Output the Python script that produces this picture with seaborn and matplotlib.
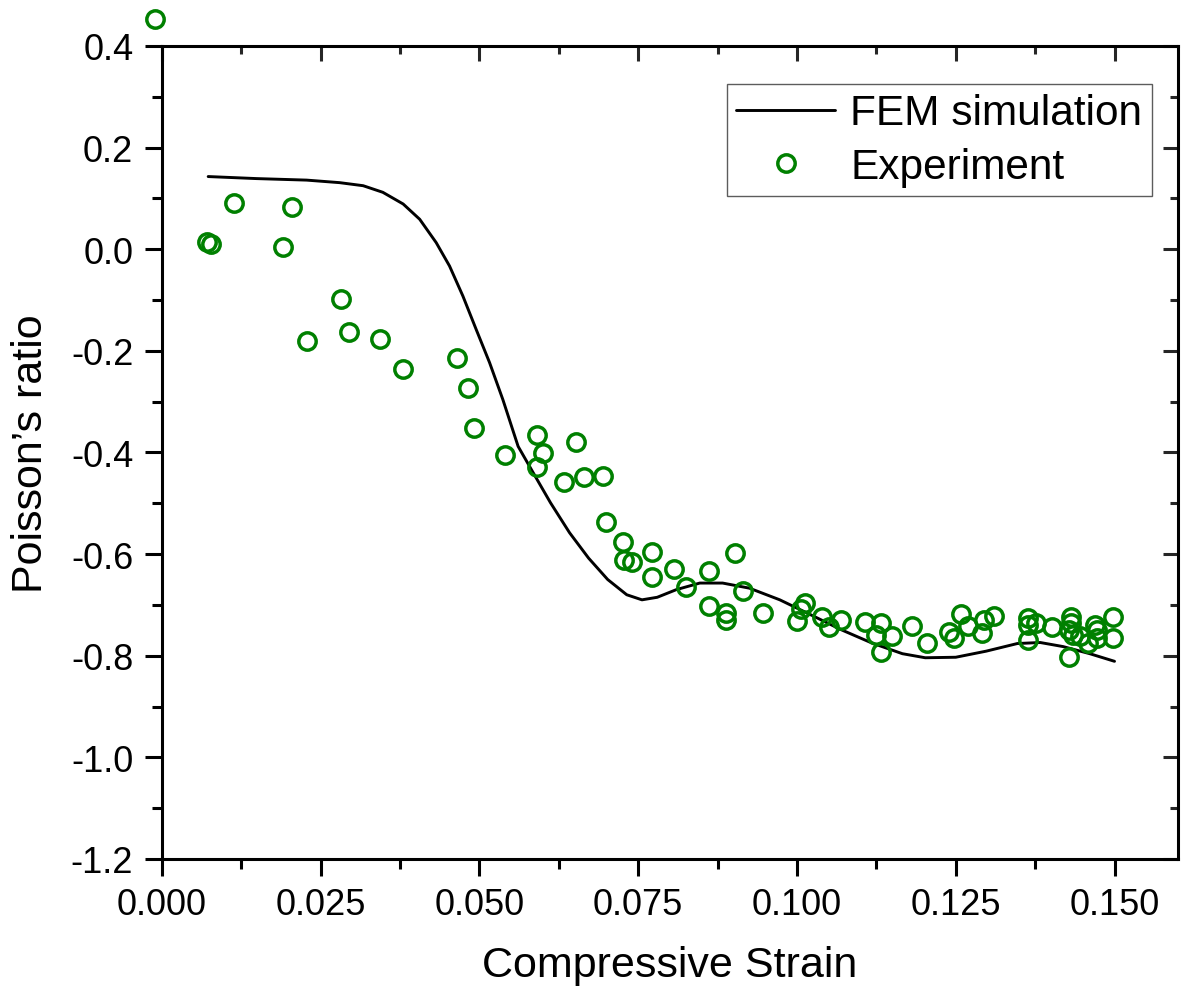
import numpy as np
import pandas as pd
import matplotlib
matplotlib.use("Agg")
import matplotlib.pyplot as plt
from matplotlib.ticker import MultipleLocator
import seaborn as sns

# FEM simulation curve
fem_strain = [0.0073, 0.0149, 0.0228, 0.0280, 0.0317, 0.0348, 0.0380, 0.0406, 0.0432,
              0.0453, 0.0474, 0.0495, 0.0516, 0.0537, 0.0561, 0.0588, 0.0612, 0.0642,
              0.0672, 0.0702, 0.0732, 0.0756, 0.0780, 0.0810, 0.0847, 0.0883, 0.0925,
              0.0973, 0.1021, 0.1070, 0.1118, 0.1166, 0.1202, 0.1250, 0.1298, 0.1347,
              0.1383, 0.1419, 0.1461, 0.1500]
fem_ratio = [0.143, 0.139, 0.136, 0.131, 0.125, 0.112, 0.089, 0.059, 0.013,
             -0.033, -0.092, -0.158, -0.223, -0.296, -0.388, -0.447, -0.499, -0.558,
             -0.608, -0.650, -0.680, -0.690, -0.685, -0.670, -0.657, -0.657, -0.667,
             -0.690, -0.719, -0.749, -0.775, -0.796, -0.804, -0.803, -0.791, -0.776,
             -0.774, -0.782, -0.796, -0.811]

# experimental points
exp_strain = [-0.0011, 0.0071, 0.0077, 0.0113, 0.0191, 0.0205, 0.0228, 0.0282, 0.0294,
              0.0343, 0.0379, 0.0464, 0.0482, 0.0491, 0.0540, 0.0590, 0.0600, 0.0590,
              0.0652, 0.0634, 0.0664, 0.0694, 0.0699, 0.0726, 0.0740, 0.0727, 0.0771,
              0.0771, 0.0806, 0.0825, 0.0861, 0.0861, 0.0902, 0.0888, 0.0888, 0.0915,
              0.0946, 0.1012, 0.1007, 0.1000, 0.1040, 0.1051, 0.1070, 0.1107, 0.1133,
              0.1124, 0.1149, 0.1133, 0.1181, 0.1204, 0.1240, 0.1248, 0.1259, 0.1269,
              0.1292, 0.1295, 0.1311, 0.1363, 0.1363, 0.1377, 0.1363, 0.1402, 0.1431,
              0.1432, 0.1429, 0.1434, 0.1429, 0.1445, 0.1458, 0.1469, 0.1472, 0.1473,
              0.1497, 0.1497]
exp_ratio = [0.453, 0.014, 0.010, 0.091, 0.004, 0.083, -0.181, -0.097, -0.162,
             -0.177, -0.236, -0.215, -0.274, -0.351, -0.404, -0.366, -0.402, -0.428,
             -0.380, -0.459, -0.449, -0.447, -0.536, -0.577, -0.615, -0.611, -0.595,
             -0.646, -0.629, -0.664, -0.634, -0.703, -0.597, -0.716, -0.729, -0.672,
             -0.716, -0.696, -0.709, -0.731, -0.723, -0.743, -0.729, -0.733, -0.735,
             -0.760, -0.762, -0.792, -0.741, -0.774, -0.753, -0.765, -0.717, -0.742,
             -0.755, -0.729, -0.721, -0.725, -0.739, -0.735, -0.770, -0.743, -0.723,
             -0.735, -0.749, -0.759, -0.802, -0.762, -0.774, -0.739, -0.749, -0.765,
             -0.723, -0.765]

x_ticklabels = ["0.000", "0.025", "0.050", "0.075", "0.100", "0.125", "0.150"]
y_ticklabels = ["-1.2", "-1.0", "-0.8", "-0.6", "-0.4", "-0.2", "0.0", "0.2", "0.4"]

fem = pd.DataFrame({"strain": fem_strain, "ratio": fem_ratio})
exp = pd.DataFrame({"strain": exp_strain, "ratio": exp_ratio})

sns.set_style("ticks")
plt.rcParams["font.family"] = ["Liberation Sans", "DejaVu Sans"]
plt.rcParams["text.color"] = "black"
plt.rcParams["axes.labelcolor"] = "black"

fig = plt.figure(figsize=(11.81, 9.95), dpi=100)
ax = fig.add_axes([0.137, 0.1357, 0.8605, 0.8171])

sns.lineplot(data=fem, x="strain", y="ratio", ax=ax, color="black", lw=2.1,
             sort=False, label="FEM simulation", solid_joinstyle="round")
ax.plot(exp["strain"], exp["ratio"], ls="none", marker="o", ms=12.5,
        mfc="none", mec="#008000", mew=2.5, clip_on=False, label="Experiment")

ax.set_xticks(np.arange(0, 0.151, 0.025))
ax.set_xticklabels(x_ticklabels)
ax.set_yticks(np.arange(-1.2, 0.41, 0.2))
ax.set_yticklabels(y_ticklabels)
ax.xaxis.set_minor_locator(MultipleLocator(0.0125))
ax.yaxis.set_minor_locator(MultipleLocator(0.1))
ax.set_xlim(0, 0.16)
ax.set_ylim(-1.2, 0.4)

for s in ax.spines.values():
    s.set_linewidth(2.2)
    s.set_color("black")

ax.tick_params(which="both", direction="out", width=2.2, labelsize=26,
               colors="black", top=False, right=False)
ax.tick_params(which="major", length=12.5, pad=8)
ax.tick_params(which="minor", length=7)

# mirrored inward ticks on top and right
axt = ax.secondary_xaxis("top")
axt.xaxis.set_major_locator(MultipleLocator(0.025))
axt.xaxis.set_minor_locator(MultipleLocator(0.0125))
axt.tick_params(which="both", direction="in", width=2.2, labeltop=False)
axt.tick_params(which="major", length=11)
axt.tick_params(which="minor", length=6)
axt.spines["top"].set_visible(False)
axr = ax.secondary_yaxis("right")
axr.yaxis.set_major_locator(MultipleLocator(0.2))
axr.yaxis.set_minor_locator(MultipleLocator(0.1))
axr.tick_params(which="both", direction="in", width=2.2, labelright=False)
axr.tick_params(which="major", length=11)
axr.tick_params(which="minor", length=6)
axr.spines["right"].set_visible(False)

ax.set_xlabel("Compressive Strain", fontsize=31, labelpad=16)
ax.set_ylabel("Poisson\u2019s ratio", fontsize=31, labelpad=14)

leg = ax.legend(loc="upper right", bbox_to_anchor=(0.974, 0.953), borderaxespad=0,
                fontsize=30.5, frameon=True, fancybox=False, handlelength=2.35,
                handletextpad=0.35, labelspacing=0.32, borderpad=0.22)
leg.get_frame().set_edgecolor("#333333")
leg.get_frame().set_linewidth(1.0)
for t in leg.get_texts():
    t.set_color("black")

fig.savefig("out.png", dpi=100)
